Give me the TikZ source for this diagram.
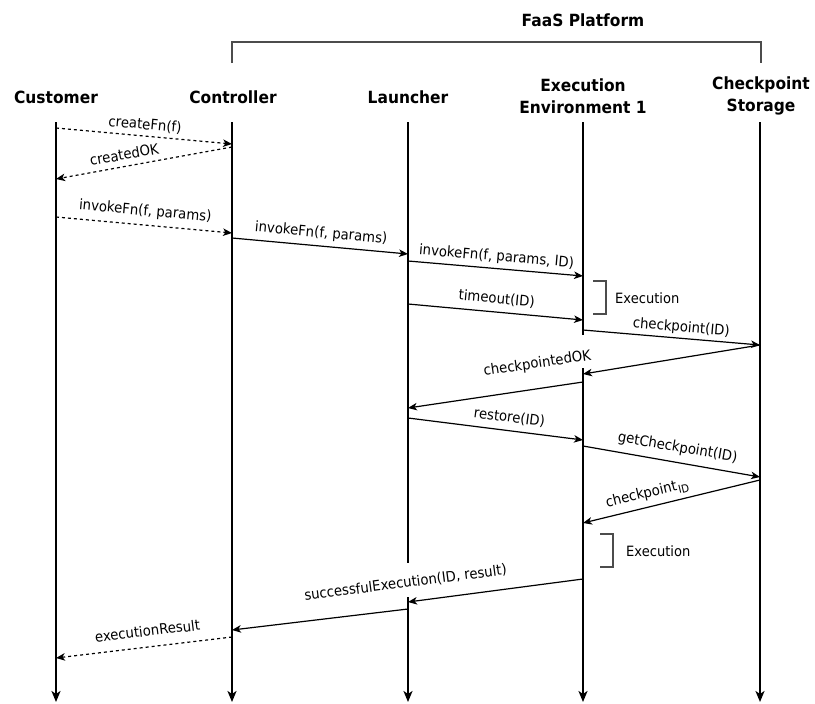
\documentclass[tikz,border=0pt]{standalone}
\usepackage{fontspec}
\setmainfont[FakeStretch=0.92]{DejaVu Sans}
\usetikzlibrary{arrows.meta}

% lowered, slightly reduced index text
\newcommand{\idx}[1]{\kern1pt\raisebox{-0.28em}{\fontsize{11}{11}\selectfont #1}}

\begin{document}
\begin{tikzpicture}[x=1pt,y=-1pt,
  lifeline/.style={line width=2pt, -{Stealth[length=11pt,width=9pt,inset=3pt]}},
  bar/.style={line width=2pt},
  msg/.style={line width=1.2pt, -{Stealth[length=9pt,width=7.5pt,inset=2.5pt]}},
  reply/.style={msg, dash pattern=on 3pt off 3pt},
  head/.style={font=\fontsize{16.8}{22}\selectfont\bfseries, align=center, inner sep=0pt},
  lbl/.style={font=\fontsize{14.4}{17}\selectfont, sloped, inner sep=1pt,
              text height=0.75em, text depth=0.2em},
  note/.style={font=\fontsize{14.2}{17}\selectfont, anchor=west, inner sep=0pt},
  bracket/.style={line width=1.2pt, draw=black!70},
]
\useasboundingbox (0,0) rectangle (815,704);

% lifeline positions
\path (56,0) coordinate (cu) (232,0) coordinate (co) (408,0) coordinate (la)
      (583,0) coordinate (ex) (760,0) coordinate (st);

% participants
\node[head] (hcu) at (56,97) {Customer};
\node[head] (hco) at (233,97) {Controller};
\node[head] (hla) at (408,97) {Launcher};
\node[head] (hex) at (583,96) {Execution\\Environment 1};
\node[head] (hst) at (761,96) {Checkpoint\\Storage};
\node[head] (faas) at (583,20) {FaaS Platform};

% platform grouping bracket
\draw[bracket] (co |- 0,63) -- (co |- 0,42) -- (761,42) -- (761,63);

% lifelines
\draw[lifeline] (cu |- 0,122) -- (cu |- 0,702);
\draw[lifeline] (co |- 0,122) -- (co |- 0,702);
\draw[bar]      (la |- 0,122) -- (la |- 0,563);
\draw[lifeline] (la |- 0,597) -- (la |- 0,702);
\draw[bar]      (ex |- 0,122) -- (ex |- 0,335);
\draw[lifeline] (ex |- 0,368) -- (ex |- 0,702);
\draw[lifeline] (st |- 0,122) -- (st |- 0,702);

% messages
\draw[reply] (cu |- 0,128) -- node[lbl, above=3pt, pos=.5] {createFn(f)} (co |- 0,144);
\draw[reply] (co |- 0,147) -- node[lbl, above=3pt, pos=.6] {createdOK} (cu |- 0,179);
\draw[reply] (cu |- 0,217) -- node[lbl, above=6pt, pos=.5] {invokeFn(f, params)} (co |- 0,233);
\draw[msg] (co |- 0,238) -- node[lbl, above=5pt, pos=.5] {invokeFn(f, params)} (la |- 0,254);
\draw[msg] (la |- 0,261) -- node[lbl, above=4pt, pos=.5] {invokeFn(f, params, ID)} (ex |- 0,276);
\draw[msg] (la |- 0,304) -- node[lbl, above=5pt, pos=.5] {timeout(ID)} (ex |- 0,320);
\draw[msg] (ex |- 0,330) -- node[lbl, above=3pt, pos=.55] {checkpoint(ID)} (st |- 0,345);
\draw[msg] (st |- 0,345) -- (ex |- 0,374);
\draw[msg] (ex |- 0,382) -- node[lbl, above=17pt, pos=.24] {checkpointedOK} (la |- 0,408);
\draw[msg] (la |- 0,418) -- node[lbl, above=5pt, pos=.57] {restore(ID)} (ex |- 0,440);
\draw[msg] (ex |- 0,446) -- node[lbl, above=7pt, pos=.52] {getCheckpoint(ID)} (st |- 0,477);
\draw[msg] (st |- 0,480) -- node[lbl, above=6pt, pos=.62] {checkpoint\idx{ID}} (ex |- 0,523);
\draw[msg] (ex |- 0,579) -- node[lbl, above=11pt, pos=1] {successfulExecution(ID, result)} (la |- 0,602);
\draw[msg] (la |- 0,609) -- (co |- 0,630);
\draw[reply] (co |- 0,637) -- node[lbl, above=7pt, pos=.47] {executionResult} (cu |- 0,658);

% execution phases
\draw[bracket] (593,281) -- (606,281) -- (606,314) -- (593,314);
\node[note] (exec1) at (615,298) {Execution};
\draw[bracket] (600,534) -- (613,534) -- (613,567) -- (600,567);
\node[note] (exec2) at (626,551) {Execution};
\end{tikzpicture}
\end{document}
